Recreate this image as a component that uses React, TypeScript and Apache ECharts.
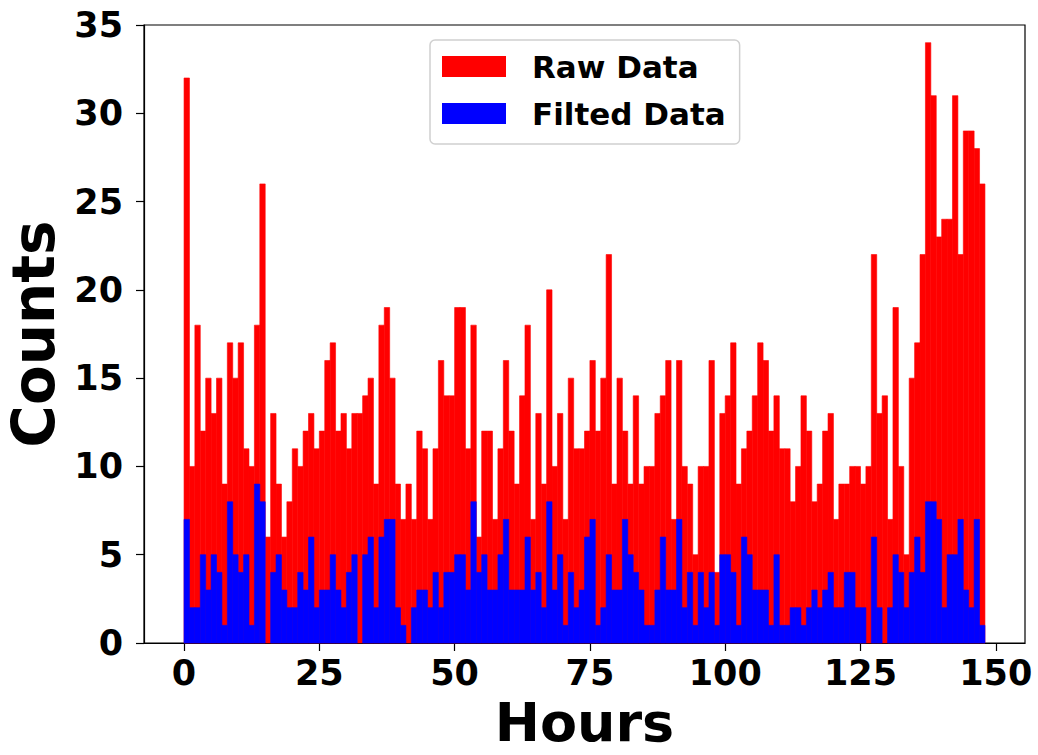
import React, { useEffect, useRef } from "react";
import * as echarts from "echarts";

// Histogram bins: each bin is 1 hour wide, starting at hour = index
const BIN_WIDTH = 1;
const RAW_DATA: number[] = [
  32, 10, 18, 12, 15, 13, 15, 9, 17, 15, 17, 11, 10, 18, 26, 6, 13, 9, 6, 8,
  11, 10, 12, 13, 11, 12, 16, 17, 12, 13, 11, 13, 13, 14, 15, 9, 18, 19, 15, 9,
  7, 9, 7, 12, 11, 7, 11, 16, 14, 14, 19, 19, 11, 18, 6, 12, 12, 7, 11, 16,
  12, 9, 14, 18, 7, 13, 9, 20, 10, 13, 7, 15, 11, 11, 12, 16, 12, 15, 22, 9,
  15, 12, 9, 14, 9, 10, 10, 13, 14, 16, 7, 16, 10, 9, 5, 10, 10, 16, 4, 13,
  14, 17, 9, 11, 12, 14, 17, 16, 12, 14, 11, 11, 8, 10, 14, 12, 8, 9, 12, 13,
  7, 9, 9, 10, 10, 9, 10, 22, 13, 14, 7, 19, 10, 5, 15, 17, 22, 34, 31, 23,
  24, 24, 31, 22, 29, 29, 28, 26,
];
const FILTERED_DATA: number[] = [
  7, 2, 2, 5, 3, 5, 4, 1, 8, 5, 4, 5, 1, 9, 8, 0, 4, 5, 3, 2,
  2, 4, 3, 6, 2, 3, 3, 5, 3, 2, 4, 5, 0, 5, 6, 2, 6, 7, 7, 2,
  1, 0, 2, 3, 3, 2, 4, 2, 4, 4, 5, 5, 3, 8, 4, 5, 3, 3, 5, 7,
  3, 3, 3, 6, 3, 4, 2, 8, 3, 5, 1, 4, 2, 3, 6, 7, 1, 2, 5, 3,
  3, 7, 5, 4, 3, 1, 1, 3, 6, 3, 3, 7, 2, 4, 1, 4, 2, 4, 1, 5,
  5, 4, 1, 6, 5, 3, 3, 3, 1, 5, 1, 1, 2, 2, 1, 2, 3, 2, 3, 4,
  2, 2, 4, 4, 2, 2, 0, 6, 2, 0, 2, 5, 4, 2, 4, 6, 4, 8, 8, 7,
  2, 5, 5, 7, 3, 2, 7, 1,
];
const BIN_STARTS: number[] = RAW_DATA.map((_, i) => i * BIN_WIDTH);
const X_TICKS: number[] = [0, 25, 50, 75, 100, 125, 150];
const SERIES_NAMES = ["Raw Data", "Filted Data"];
const COLORS = ["#ff0000", "#0000ff"];

const FONT = "'DejaVu Sans', sans-serif";

function histSeries(name: string, values: number[], color: string) {
  return {
    name,
    type: "custom",
    itemStyle: { color },
    encode: { x: 0, y: 1 },
    data: values.map((v, i) => [BIN_STARTS[i], v]),
    renderItem: (_params: any, api: any) => {
      const x0 = api.value(0);
      const v = api.value(1);
      const pTop = api.coord([x0, v]);
      const pBot = api.coord([x0 + BIN_WIDTH, 0]);
      const h = pBot[1] - pTop[1];
      return {
        type: "rect",
        shape: {
          x: pTop[0],
          y: pTop[1],
          width: pBot[0] - pTop[0],
          height: h,
        },
        style: { fill: color, stroke: h > 0 ? color : "none", lineWidth: 0.6 },
      };
    },
  };
}

export default function App() {
  const ref = useRef<HTMLDivElement>(null);
  useEffect(() => {
    if (!ref.current) return;
    const chart = echarts.init(ref.current, undefined, { renderer: "svg" });
    chart.setOption({
      animation: false,
      backgroundColor: "#ffffff",
      grid: {
        left: 144,
        right: 13,
        top: 25,
        bottom: 112,
        containLabel: false,
        outerBoundsMode: "none",
        show: true,
        borderColor: "#000",
        borderWidth: 1.2,
        backgroundColor: "transparent",
      },
      legend: {
        orient: "vertical",
        left: 430,
        top: 40,
        icon: "rect",
        itemWidth: 64,
        itemHeight: 21,
        itemGap: 16,
        padding: [11, 14, 15, 12],
        borderColor: "#d0d0d0",
        borderWidth: 1.5,
        borderRadius: 5,
        backgroundColor: "#ffffff",
        data: SERIES_NAMES,
        textStyle: {
          fontFamily: FONT,
          fontWeight: "bold",
          fontSize: 31,
          lineHeight: 30,
          color: "#000",
          padding: [0, 0, 0, 21],
        },
      },
      xAxis: {
        type: "value",
        min: -7.4,
        max: 155.4,
        name: "Hours",
        nameLocation: "middle",
        nameGap: 52,
        nameTextStyle: {
          fontFamily: FONT,
          fontWeight: "bold",
          fontSize: 54,
          lineHeight: 54,
          color: "#000",
        },
        splitLine: { show: false },
        axisLine: { show: true, onZero: false, lineStyle: { color: "#000", width: 1.2 } },
        axisTick: {
          show: true,
          length: 8,
          inside: false,
          customValues: X_TICKS,
          lineStyle: { color: "#000", width: 1.2 },
        },
        axisLabel: {
          customValues: X_TICKS,
          margin: 12,
          fontFamily: FONT,
          fontWeight: "bold",
          fontSize: 35,
          color: "#000",
        },
      },
      yAxis: {
        type: "value",
        min: 0,
        max: 35,
        interval: 5,
        name: "Counts",
        nameLocation: "middle",
        nameGap: 78,
        nameTextStyle: {
          fontFamily: FONT,
          fontWeight: "bold",
          fontSize: 58,
          color: "#000",
        },
        splitLine: { show: false },
        axisLine: { show: true, onZero: false, lineStyle: { color: "#000", width: 1.2 } },
        axisTick: { show: true, length: 8, lineStyle: { color: "#000", width: 1.2 } },
        axisLabel: {
          margin: 21,
          fontFamily: FONT,
          fontWeight: "bold",
          fontSize: 35,
          color: "#000",
        },
      },
      series: [
        histSeries(SERIES_NAMES[0], RAW_DATA, COLORS[0]),
        histSeries(SERIES_NAMES[1], FILTERED_DATA, COLORS[1]),
      ],
    });
    return () => chart.dispose();
  }, []);
  return (
    <div
      ref={ref}
      style={{ position: "fixed", left: 0, top: 0, width: 1038, height: 755, background: "#fff" }}
    />
  );
}
